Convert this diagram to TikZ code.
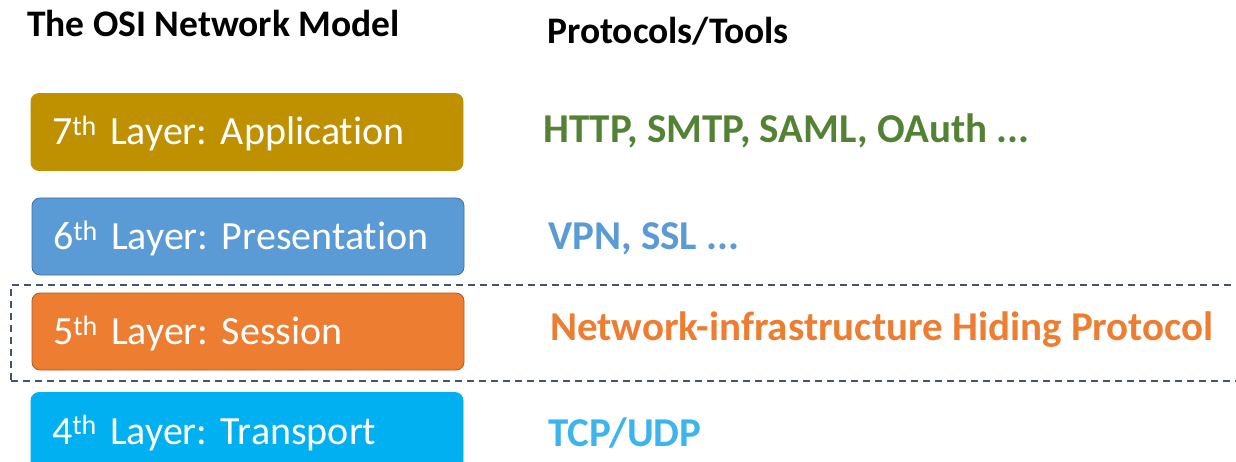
\documentclass[tikz,border=0pt]{standalone}
\usepackage{fontspec}
\setmainfont{Carlito}[Ligatures=NoCommon]
\frenchspacing
\definecolor{c7}{HTML}{BF9000}
\definecolor{c6}{HTML}{5B9BD5}
\definecolor{c6b}{HTML}{41719C}
\definecolor{c5}{HTML}{ED7D31}
\definecolor{c5b}{HTML}{AE5A21}
\definecolor{c4}{HTML}{00B0F0}
\definecolor{tgreen}{HTML}{548235}
\definecolor{tblue}{HTML}{5B9BD5}
\definecolor{torange}{HTML}{ED7D31}
\definecolor{tcyan}{HTML}{3DB4EE}
\definecolor{dashc}{HTML}{44546A}
\begin{document}
\begin{tikzpicture}[x=1pt,y=-1pt,
  layerbox/.style={rounded corners=8pt, line width=0.8pt, text=white,
    text width=390pt, align=left, inner xsep=21pt, inner ysep=0pt,
    text height=26pt, text depth=0pt,
    minimum height=77pt, font=\fontsize{40}{44}\selectfont},
  title/.style={font=\bfseries\fontsize{37.5}{40}\selectfont, anchor=base west, inner sep=0pt},
  proto/.style={font=\bfseries\fontsize{41}{44}\selectfont, anchor=base west, inner sep=0pt}]
\useasboundingbox (0,0) rectangle (1236,462);
\clip (0,0) rectangle (1236,462);
\node[title] (t1) at (27,37) {The OSI Network Model};
\node[title] (t2) at (547,44) {Protocols/Tools};
\node[layerbox, fill=c7, draw=c7] (l7) at (247,132) {7\textsuperscript{th} Layer: Application};
\node[layerbox, fill=c6, draw=c6b] (l6) at (248,236.5) {6\textsuperscript{th} Layer: Presentation};
\node[layerbox, fill=c5, draw=c5b] (l5) at (248,331.5) {5\textsuperscript{th} Layer: Session};
\node[layerbox, fill=c4, draw=c4] (l4) at (247,431) {4\textsuperscript{th} Layer: Transport};
\node[draw=dashc, line width=1.8pt, dash pattern=on 7pt off 5pt, inner sep=0pt,
  minimum width=1240pt, minimum height=96pt, anchor=north west] (sess) at (10,284) {};
\node[proto, text=tgreen] (p7) at (543,143) {HTTP, SMTP, SAML, OAuth ...};
\node[proto, text=tblue] (p6) at (548,250) {VPN, SSL ...};
\node[proto, text=torange] (p5) at (550,340) {Network-infrastructure Hiding Protocol};
\node[proto, text=tcyan] (p4) at (548,446) {TCP/UDP};
\end{tikzpicture}
\end{document}
